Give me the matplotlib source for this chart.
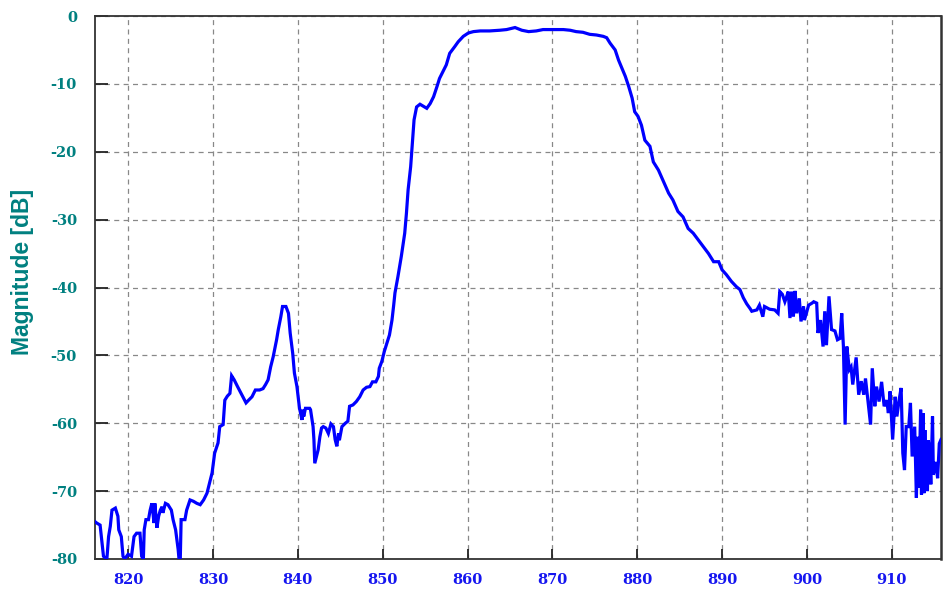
import matplotlib
matplotlib.use("Agg")
import matplotlib.pyplot as plt

# Frequency (MHz) and magnitude (dB)
freq = [816.1, 816.3, 816.7, 817.1, 817.5, 817.7, 817.9, 818.1, 818.5, 818.8, 818.9, 819.2, 819.4, 819.6,
        820.0, 820.4, 820.7, 821.0, 821.4, 821.6, 821.8, 821.9, 822.1, 822.4, 822.6, 822.8, 822.9, 823.05,
        823.15, 823.4, 823.6, 823.8, 824.0, 824.1, 824.4, 824.7, 825.1, 825.3, 825.6, 825.9, 826.0, 826.15,
        826.25, 826.7, 826.9, 827.3, 827.7, 828.1, 828.5, 828.9, 829.3, 829.7, 829.9, 830.2, 830.6, 830.8,
        831.2, 831.4, 831.7, 832.0, 832.2, 832.5, 832.9, 833.4, 833.9, 834.2, 834.6, 835.0, 835.5, 835.9,
        836.2, 836.5, 836.8, 837.1, 837.5, 837.7, 838.0, 838.2, 838.6, 838.9, 839.1, 839.4, 839.6, 839.9,
        840.2, 840.5, 840.6, 840.7, 840.9, 841.4, 841.5, 841.8, 841.9, 842.0, 842.1, 842.4, 842.6, 842.8,
        843.0, 843.3, 843.6, 843.9, 844.2, 844.4, 844.6, 844.8, 844.9, 845.2, 845.6, 845.9, 846.1, 846.5,
        846.9, 847.3, 847.7, 848.1, 848.5, 848.8, 849.2, 849.5, 849.6, 849.9, 850.2, 850.5, 850.8, 851.1,
        851.3, 851.45, 851.8, 852.2, 852.6, 852.8, 853.0, 853.3, 853.5, 853.7, 854.0, 854.4, 854.8, 855.2,
        855.6, 856.0, 856.4, 856.7, 857.1, 857.5, 857.9, 858.5, 858.9, 859.5, 860.1, 860.7, 861.5, 862.6,
        863.8, 864.6, 865.6, 866.4, 867.2, 868.1, 868.9, 870.1, 871.3, 872.1, 872.8, 873.6, 874.4, 875.2,
        876.0, 876.4, 876.8, 877.4, 877.8, 878.2, 878.6, 879.0, 879.4, 879.7, 880.1, 880.5, 880.9, 881.5,
        881.9, 882.5, 883.1, 883.7, 884.2, 884.8, 885.4, 886.0, 886.6, 887.2, 887.8, 888.4, 889.0, 889.6,
        890.0, 890.5, 891.1, 891.7, 892.1, 892.5, 892.9, 893.3, 893.5, 894.1, 894.4, 894.8, 895.0, 895.6,
        896.2, 896.6, 896.8, 897.1, 897.4, 897.6, 897.8, 898.0, 898.2, 898.4, 898.6, 898.8, 899.1, 899.3,
        899.6, 899.7, 900.2, 900.6, 900.8, 901.15, 901.3, 901.6, 901.9, 902.1, 902.3, 902.6, 902.9, 903.3,
        903.6, 903.9, 904.1, 904.3, 904.5, 904.7, 905.0, 905.2, 905.4, 905.8, 906.1, 906.4, 906.7, 906.9,
        907.2, 907.5, 907.7, 908.0, 908.2, 908.5, 908.8, 909.1, 909.4, 909.6, 909.8, 910.1, 910.4, 910.6,
        910.9, 911.1, 911.3, 911.5, 911.7, 912.0, 912.2, 912.4, 912.7, 912.9, 913.05, 913.2, 913.4, 913.5,
        913.6, 913.7, 913.8, 913.9, 914.0, 914.1, 914.2, 914.3, 914.4, 914.6, 914.8, 914.9, 915.2, 915.4,
        915.6, 915.8]
mag = [-74.5, -74.7, -75.0, -79.6, -80.0, -76.7, -75.2, -72.8, -72.5, -73.7, -75.7, -76.7, -79.6, -80.0,
       -79.3, -79.6, -76.7, -76.2, -76.2, -79.6, -80.0, -75.7, -74.2, -74.2, -72.8, -71.8, -72.8, -74.7,
       -71.8, -75.4, -73.7, -72.8, -72.3, -73.2, -71.8, -72.0, -72.8, -74.2, -75.7, -78.6, -80.0, -80.0,
       -74.2, -74.2, -72.8, -71.3, -71.5, -71.8, -72.0, -71.3, -70.3, -68.3, -67.3, -64.4, -62.9, -60.5,
       -60.2, -56.6, -56.0, -55.6, -53.0, -53.6, -54.6, -55.8, -57.0, -56.6, -56.1, -55.1, -55.1, -54.9,
       -54.3, -53.6, -51.7, -50.2, -47.7, -46.2, -44.3, -42.8, -42.8, -43.8, -46.7, -49.7, -52.6, -54.6,
       -57.8, -59.5, -58.0, -59.0, -57.8, -57.8, -58.0, -60.5, -62.4, -65.9, -65.4, -63.9, -62.0, -60.7,
       -60.5, -60.7, -61.5, -60.1, -60.5, -62.4, -63.4, -61.5, -62.5, -60.5, -60.0, -59.7, -57.5, -57.3,
       -56.8, -56.1, -55.1, -54.7, -54.6, -53.9, -53.9, -53.1, -51.9, -50.9, -49.4, -48.2, -47.0, -44.8,
       -42.6, -40.8, -38.4, -35.4, -32.0, -29.1, -25.6, -22.2, -18.7, -15.3, -13.4, -13.0, -13.3, -13.6,
       -12.9, -11.9, -10.4, -9.2, -8.2, -7.2, -5.5, -4.5, -3.8, -3.0, -2.5, -2.3, -2.2, -2.2,
       -2.1, -2.0, -1.7, -2.1, -2.3, -2.2, -2.0, -2.0, -2.0, -2.1, -2.3, -2.4, -2.7, -2.8,
       -3.0, -3.2, -4.0, -5.0, -6.5, -7.7, -8.9, -10.4, -12.1, -14.1, -14.8, -16.1, -18.3, -19.2,
       -21.5, -22.7, -24.4, -26.1, -27.1, -28.8, -29.6, -31.3, -32.0, -33.0, -34.0, -35.0, -36.2, -36.2,
       -37.4, -38.1, -39.1, -39.9, -40.3, -41.5, -42.4, -43.1, -43.5, -43.3, -42.6, -44.3, -42.8, -43.2,
       -43.3, -43.8, -40.6, -41.0, -42.1, -41.4, -40.6, -44.5, -40.6, -44.3, -40.5, -43.8, -41.6, -45.0,
       -42.8, -44.8, -42.6, -42.3, -42.1, -42.3, -46.7, -44.8, -48.7, -43.5, -48.5, -41.3, -46.2, -46.4,
       -47.7, -47.5, -43.8, -48.7, -60.2, -48.7, -52.1, -51.7, -54.3, -50.3, -55.8, -53.8, -55.8, -53.4,
       -56.8, -60.2, -51.9, -57.5, -54.6, -56.8, -53.9, -57.5, -56.6, -58.5, -55.3, -62.4, -56.1, -59.0,
       -56.3, -54.8, -64.4, -66.9, -60.5, -60.5, -57.0, -64.9, -60.5, -71.0, -62.0, -69.5, -58.0, -70.5,
       -62.0, -58.5, -70.3, -61.0, -69.8, -63.0, -70.0, -62.5, -63.4, -69.0, -59.0, -67.6, -65.7, -68.1,
       -63.0, -62.4]

# Axis settings
x_ticks = [820, 830, 840, 850, 860, 870, 880, 890, 900, 910]
y_ticks = [0, -10, -20, -30, -40, -50, -60, -70, -80]
y_label = "Magnitude [dB]"

fig = plt.figure(figsize=(9.47, 5.89), dpi=100)
ax = fig.add_axes([95 / 947, 1 - 559 / 589, (941 - 95) / 947, (559 - 16) / 589])

ax.plot(freq, mag, color="#0000FF", linewidth=2.3, solid_joinstyle="miter", zorder=3)

ax.set_xlim(816.1, 915.8)
ax.set_ylim(-80, 0)
ax.set_xticks(x_ticks)
ax.set_yticks(y_ticks)
ax.set_xticklabels([str(t) for t in x_ticks])
ax.set_yticklabels([str(t) for t in y_ticks])

ax.grid(True, color="#888888", linestyle=(0, (4, 3.5)), linewidth=0.9)
ax.set_axisbelow(True)

for sp in ax.spines.values():
    sp.set_color("#333333")
    sp.set_linewidth(1.3)
ax.spines["right"].set_linewidth(1.8)

ax.tick_params(axis="x", direction="in", length=7, width=1.3, color="#222222",
               labelcolor="#1515F0", pad=10)
ax.tick_params(axis="y", direction="in", length=9, width=1.3, color="#222222",
               labelcolor="#008080", pad=13)
for lbl in ax.get_xticklabels() + ax.get_yticklabels():
    lbl.set_fontfamily("DejaVu Serif")
    lbl.set_fontweight("bold")
    lbl.set_fontsize(10.5)

fig.text(23 / 947, 1 - 272 / 589, y_label, rotation=90, ha="center", va="center",
         color="#008080", fontsize=16.5, fontweight="bold", family="Liberation Sans")

fig.savefig("out.png", dpi=100)
